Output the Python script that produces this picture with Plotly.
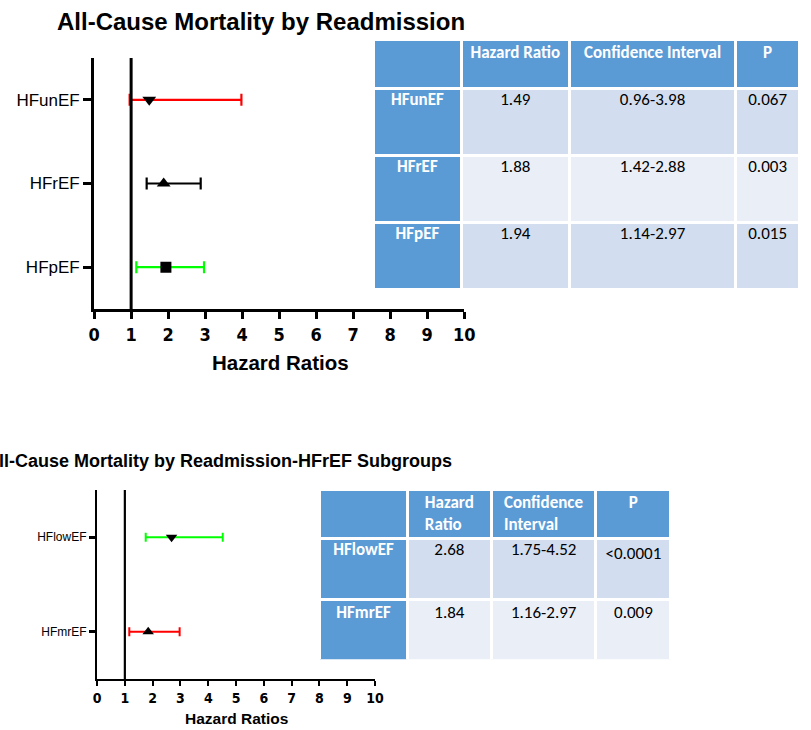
import plotly.graph_objects as go

W, H = 811, 730

# ---------------- data ----------------
top_groups = ["HFunEF", "HFrEF", "HFpEF"]
top_hr = [1.49, 1.88, 1.94]
top_lo = [0.96, 1.42, 1.14]
top_hi = [3.98, 2.88, 2.97]
top_p = ["0.067", "0.003", "0.015"]
top_ci = ["0.96-3.98", "1.42-2.88", "1.14-2.97"]
top_bar_colors = ["#FF0000", "#000000", "#00FF00"]
top_symbols = ["triangle-down", "triangle-up", "square"]

bot_groups = ["HFlowEF", "HFmrEF"]
bot_hr = [2.68, 1.84]
bot_lo = [1.75, 1.16]
bot_hi = [4.52, 2.97]
bot_p = ["<0.0001", "0.009"]
bot_ci = ["1.75-4.52", "1.16-2.97"]
bot_bar_colors = ["#00FF00", "#FF0000"]
bot_symbols = ["triangle-down", "triangle-up"]

x_ticks = list(range(0, 11))
ref_line = 1

top_header = ["", "Hazard\u00a0Ratio", "Confidence\u00a0Interval", "P"]
bot_header = ["", "Hazard<br>Ratio", "Confidence<br>Interval", "P"]

HEAD_BLUE = "#5B9BD5"
ROW_A = "#D2DEEF"
ROW_B = "#EAEFF7"

def px(x):
    return x / W

def py(y):
    return 1 - y / H

fig = go.Figure()

# ---------------- top forest plot ----------------
for g, hr, lo, hi, c, s in zip(top_groups, top_hr, top_lo, top_hi, top_bar_colors, top_symbols):
    fig.add_trace(go.Scatter(
        x=[hr], y=[g], mode="markers", xaxis="x", yaxis="y",
        marker=dict(symbol=s, size=12 if s != "square" else 11, color="black"),
        error_x=dict(type="data", symmetric=False, array=[hi - hr], arrayminus=[hr - lo],
                     color=c, thickness=2.2, width=6),
        showlegend=False, hoverinfo="skip"))

# ---------------- bottom forest plot ----------------
for g, hr, lo, hi, c, s in zip(bot_groups, bot_hr, bot_lo, bot_hi, bot_bar_colors, bot_symbols):
    fig.add_trace(go.Scatter(
        x=[hr], y=[g], mode="markers", xaxis="x2", yaxis="y2",
        marker=dict(symbol=s, size=10, color="black"),
        error_x=dict(type="data", symmetric=False, array=[hi - hr], arrayminus=[hr - lo],
                     color=c, thickness=2, width=4.5),
        showlegend=False, hoverinfo="skip"))

# ---------------- tables ----------------
TFONT = "Carlito, Calibri, Lato, sans-serif"
HEAD_SHIFT = 6   # text sits near the top of each cell in the reference
CELL_SHIFT = 4


def table_cells(groups, hr, ci, p):
    return [
        list(groups),
        ["%.2f" % v for v in hr],
        ci,
        p,
    ]


def fills(n):
    rows = [ROW_A if i % 2 == 0 else ROW_B for i in range(n)]
    return [[HEAD_BLUE] * n, rows, rows, rows]


def add_table(header, groups, hr, ci, p, x0, x1, ytop, ybot, colw, hh, ch, ch_text):
    n = len(groups)
    clear = "rgba(0,0,0,0)"
    # coloured grid
    fig.add_trace(go.Table(
        domain=dict(x=[px(x0), x1], y=[py(ybot), py(ytop)]),
        columnwidth=colw,
        header=dict(values=[""] * len(header), fill_color=HEAD_BLUE,
                    line=dict(color="white", width=3), height=hh),
        cells=dict(values=[[""] * n for _ in header], fill=dict(color=fills(n)),
                   line=dict(color="white", width=3), height=ch)))
    # header text layer
    fig.add_trace(go.Table(
        domain=dict(x=[px(x0), x1], y=[py(ybot - HEAD_SHIFT), py(ytop - HEAD_SHIFT)]),
        columnwidth=colw,
        header=dict(values=["<b>%s</b>" % h if h else "" for h in header],
                    fill_color=clear, line=dict(color=clear, width=3),
                    font=dict(family=TFONT, size=17, color="white"),
                    align="center", height=hh),
        cells=dict(values=[[""] * n for _ in header], fill=dict(color=clear),
                   line=dict(color=clear, width=3), height=ch)))
    # body text layer
    fig.add_trace(go.Table(
        domain=dict(x=[px(x0), x1], y=[py(ybot + 20 - CELL_SHIFT), py(ytop - CELL_SHIFT)]),
        columnwidth=colw,
        header=dict(values=[""] * len(header), fill_color=clear,
                    line=dict(color=clear, width=3), height=hh),
        cells=dict(values=table_cells(groups, hr, ci, p),
                   fill=dict(color=clear), line=dict(color=clear, width=3),
                   font=dict(family=TFONT, size=17,
                             color=["white", "black", "black", "black"],
                             weight=["bold", "normal", "normal", "normal"]),
                   align="center", height=ch_text)))


add_table(top_header, top_groups, top_hr, top_ci, top_p,
          375.5, 1.0, 39.5, 292, [89.5, 111, 170, 65.5], 49, 67, 67)
add_table(bot_header, bot_groups, bot_hr, bot_ci, bot_p,
          320.5, px(679.5), 489.5, 660, [89.5, 86, 107, 76.5], 49, 61, 63)

# ---------------- axes ----------------
NARROW = "'Liberation Sans Narrow', 'Arial Narrow', 'DejaVu Sans Condensed', sans-serif"
ARIAL = "'Liberation Sans', Arial, sans-serif"

common_x = dict(range=[0, 10], tickmode="array", tickvals=x_ticks,
                ticktext=[str(t) for t in x_ticks], showgrid=False, zeroline=False,
                showline=True, linecolor="black", ticks="outside", tickcolor="black",
                fixedrange=True)

fig.update_layout(
    width=W, height=H, margin=dict(l=0, r=0, t=0, b=0),
    paper_bgcolor="white", plot_bgcolor="white", showlegend=False,
    xaxis=dict(domain=[px(90), px(468)], anchor="y", linewidth=3, ticklen=7, tickwidth=3,
               tickfont=dict(family=NARROW, size=18, color="black", weight="bold"), **common_x),
    yaxis=dict(domain=[py(309), py(58)], anchor="x", type="category",
               categoryorder="array", categoryarray=top_groups[::-1], range=[-0.5, 2.5],
               showline=True, linecolor="black", linewidth=3, showgrid=False, zeroline=False,
               ticks="outside", ticklen=8, tickwidth=3, tickcolor="black",
               tickfont=dict(family=ARIAL, size=17, color="black"), fixedrange=True),
    xaxis2=dict(domain=[px(93), px(377)], anchor="y2", linewidth=2.2, ticklen=5, tickwidth=2,
                tickfont=dict(family=NARROW, size=14, color="black", weight="bold"), **common_x),
    yaxis2=dict(domain=[py(679), py(490)], anchor="x2", type="category",
                categoryorder="array", categoryarray=bot_groups[::-1], range=[-0.5, 1.5],
                showline=True, linecolor="black", linewidth=2.2, showgrid=False, zeroline=False,
                ticks="outside", ticklen=6, tickwidth=2.5, tickcolor="black",
                tickfont=dict(family=ARIAL, size=12, color="black"), fixedrange=True),
)

# reference lines at HR = 1
fig.add_shape(type="line", xref="x", yref="y domain", x0=ref_line, x1=ref_line, y0=0, y1=1,
              line=dict(color="black", width=3))
fig.add_shape(type="line", xref="x2", yref="y2 domain", x0=ref_line, x1=ref_line, y0=0, y1=1,
              line=dict(color="black", width=2.2))

# titles
fig.add_annotation(text="<b>All-Cause Mortality by Readmission</b>", xref="paper", yref="paper",
                   x=px(260.5), y=py(22), xanchor="center", yanchor="middle", showarrow=False,
                   font=dict(family=ARIAL, size=24, color="black"))
fig.add_annotation(text="<b>All-Cause Mortality by Readmission-HFrEF Subgroups</b>", xref="paper", yref="paper",
                   x=px(458), y=py(461), xanchor="right", yanchor="middle", showarrow=False,
                   font=dict(family=ARIAL, size=18.0, color="black"))
fig.add_annotation(text="<b>Hazard Ratios</b>", xref="paper", yref="paper",
                   x=px(280), y=py(362), xanchor="center", yanchor="middle", showarrow=False,
                   font=dict(family=ARIAL, size=20.5, color="black"))
fig.add_annotation(text="<b>Hazard Ratios</b>", xref="paper", yref="paper",
                   x=px(235), y=py(718), xanchor="center", yanchor="middle", showarrow=False,
                   font=dict(family=ARIAL, size=15.5, color="black"))

# the page's default 8px body margin would shift the figure; remove it
fig.write_html("out.html", config={"displayModeBar": False},
               post_script="document.body.style.margin='0';")
